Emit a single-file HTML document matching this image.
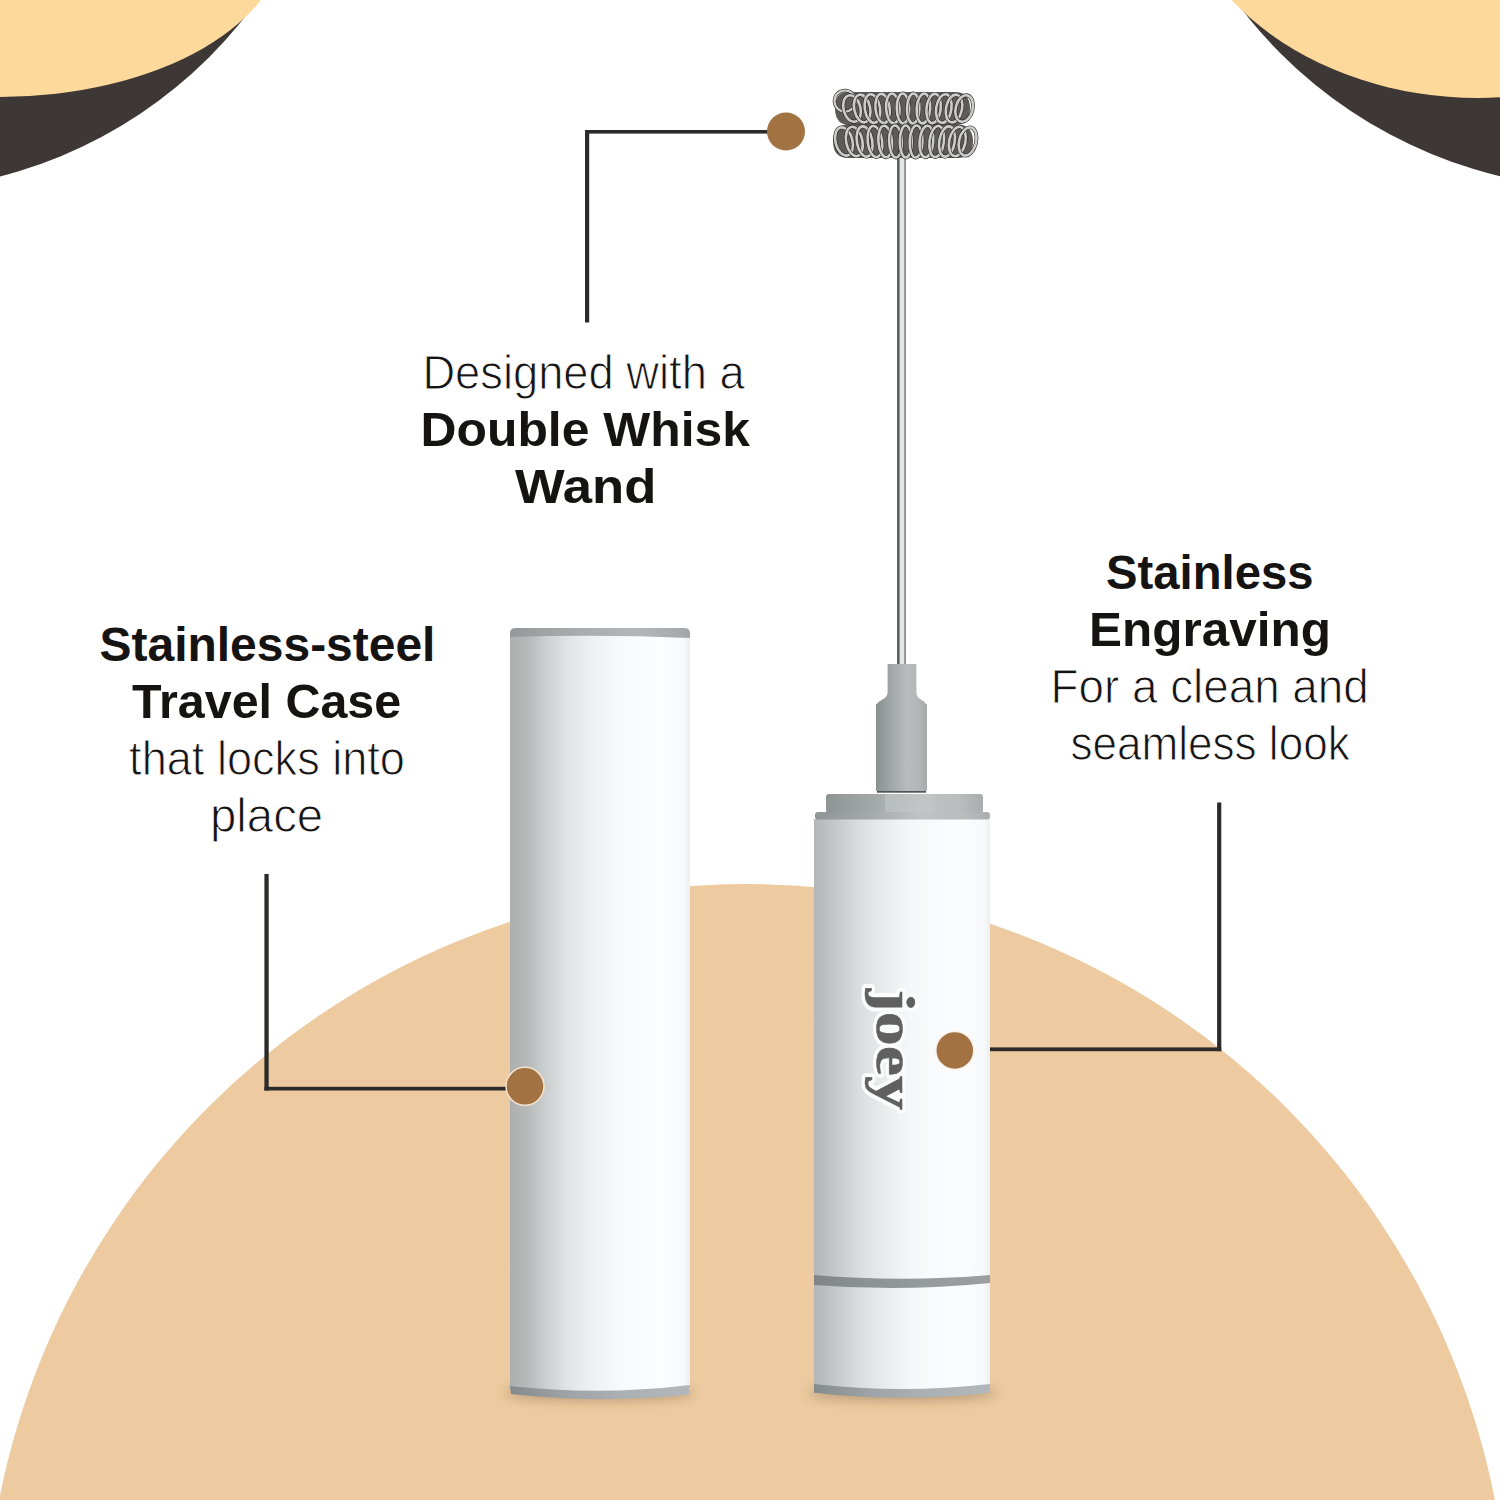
<!DOCTYPE html>
<html><head><meta charset="utf-8"><style>
html,body{margin:0;padding:0;background:#fff;}
svg{display:block;}
text.t{font-family:"Liberation Sans",sans-serif;font-size:48px;fill:#161313;}
</style></head><body>
<svg width="1500" height="1500" viewBox="0 0 1500 1500">
<defs>
 <linearGradient id="body" x1="0" x2="1" y1="0" y2="0">
  <stop offset="0" stop-color="#acafae"/>
  <stop offset="0.1" stop-color="#b7bab9"/>
  <stop offset="0.2" stop-color="#cbcfcf"/>
  <stop offset="0.32" stop-color="#e0e4e5"/>
  <stop offset="0.45" stop-color="#eef1f2"/>
  <stop offset="0.6" stop-color="#f7f9fa"/>
  <stop offset="0.85" stop-color="#fcfdfe"/>
  <stop offset="0.97" stop-color="#f6f8f9"/>
  <stop offset="1" stop-color="#eceeef"/>
 </linearGradient>
 <linearGradient id="grey" x1="0" x2="1" y1="0" y2="0">
  <stop offset="0" stop-color="#8a8f8f"/>
  <stop offset="0.3" stop-color="#a1a6a6"/>
  <stop offset="0.6" stop-color="#b8bcbd"/>
  <stop offset="0.85" stop-color="#b2b6b7"/>
  <stop offset="1" stop-color="#a5a9aa"/>
 </linearGradient>
 <linearGradient id="band" x1="0" x2="1" y1="0" y2="0">
  <stop offset="0" stop-color="#7f8586"/>
  <stop offset="0.3" stop-color="#8c9293"/>
  <stop offset="0.6" stop-color="#959b9c"/>
  <stop offset="1" stop-color="#9aa0a1"/>
 </linearGradient>
 <linearGradient id="band2" x1="0" x2="1" y1="0" y2="0">
  <stop offset="0" stop-color="#858b8c"/>
  <stop offset="0.3" stop-color="#9ca2a5"/>
  <stop offset="0.6" stop-color="#a9afb2"/>
  <stop offset="1" stop-color="#b1b7ba"/>
 </linearGradient>
 <linearGradient id="plate" x1="0" x2="1" y1="0" y2="0">
  <stop offset="0" stop-color="#8f9494"/>
  <stop offset="0.3" stop-color="#a3a8a8"/>
  <stop offset="0.6" stop-color="#bfc3c4"/>
  <stop offset="0.85" stop-color="#b9bdbe"/>
  <stop offset="1" stop-color="#a9adae"/>
 </linearGradient>
 <linearGradient id="body2" x1="0" x2="1" y1="0" y2="0">
  <stop offset="0" stop-color="#b3b7b6"/>
  <stop offset="0.1" stop-color="#c0c4c4"/>
  <stop offset="0.25" stop-color="#d9dddd"/>
  <stop offset="0.4" stop-color="#e9eced"/>
  <stop offset="0.55" stop-color="#f5f8fa"/>
  <stop offset="0.85" stop-color="#fcfdfe"/>
  <stop offset="0.97" stop-color="#f6f8f9"/>
  <stop offset="1" stop-color="#eceeef"/>
 </linearGradient>
 <linearGradient id="rim" x1="0" x2="1" y1="0" y2="0">
  <stop offset="0" stop-color="#94989a"/>
  <stop offset="0.3" stop-color="#a5a9ab"/>
  <stop offset="0.7" stop-color="#b3b7b9"/>
  <stop offset="1" stop-color="#a3a7a9"/>
 </linearGradient>
 <filter id="blur6" x="-50%" y="-300%" width="200%" height="700%"><feGaussianBlur stdDeviation="6"/></filter>
 <filter id="blur2" x="-50%" y="-50%" width="200%" height="200%"><feGaussianBlur stdDeviation="2"/></filter>
</defs>
<!-- top-left cup -->
<circle cx="-114" cy="-266" r="457" fill="#3d3735"/>
<ellipse cx="0" cy="-69" rx="287" ry="166" fill="#fdd99b"/>
<!-- top-right cup -->
<circle cx="1608" cy="-274" r="463" fill="#3d3735"/>
<ellipse cx="1478" cy="-147" rx="308" ry="245" fill="#fdd99b"/>
<!-- big tan circle -->
<circle cx="747" cy="1646" r="762" fill="#edca9f"/>

<!-- callout lines -->
<g fill="#2d2b2a">
 <rect x="585" y="130" width="190" height="3.6"/>
 <rect x="585" y="130" width="4.2" height="192.5"/>
 <rect x="264.4" y="874" width="4.3" height="216.5"/>
 <rect x="264.4" y="1086.8" width="250" height="3.7"/>
 <rect x="1217.1" y="802.5" width="4.2" height="248.7"/>
 <rect x="960" y="1047.4" width="261.3" height="3.8"/>
</g>

<!-- CASE -->
<g id="case">
 <ellipse cx="599" cy="1393" rx="95" ry="7" fill="#4a3a2a" opacity="0.35" filter="url(#blur6)"/>
 <path d="M510,634 L690,634 L690,1390 Q600,1400 510,1390 Z" fill="url(#body)"/>
 <path d="M510,1386 Q600,1396 690,1385 L689,1394.5 Q600,1404 511,1394 Z" fill="url(#band2)"/>
 <path d="M510,637 L510,633 Q510,628 516,628 L684,628 Q690,628 690,633 L690,638 Q600,634 510,637 Z" fill="url(#rim)"/>
</g>

<!-- HANDLE -->
<g id="handle">
 <ellipse cx="902" cy="1393" rx="95" ry="7" fill="#4a3a2a" opacity="0.35" filter="url(#blur6)"/>
 <path d="M814,819 L990,819 L990,1390 Q902,1401 814,1390 Z" fill="url(#body2)"/>
 <path d="M814,1275 Q902,1282.5 990,1275 L990,1283 Q902,1292 814,1285 Z" fill="url(#band)"/>
 <path d="M814,1384 Q902,1394 990,1384 L990,1392.7 Q902,1403 814,1392.7 Z" fill="url(#band2)"/>
 <rect x="815" y="812" width="175" height="7.5" rx="3" fill="url(#plate)"/>
 <rect x="826" y="794" width="157" height="19" rx="3" fill="url(#plate)"/>
 <rect x="877" y="790.5" width="49" height="2.2" fill="#505353"/>
 <rect x="885" y="794" width="50" height="18" fill="#c2c6c7" opacity="0.6"/>
 <path d="M876,704 L927,704 L927,791 L876,791 Z" fill="url(#grey)"/>
 <path d="M887.6,664 L916.4,664 L916.4,692 C916.4,701 927,699 927,708 L876,708 C876,699 887.6,701 887.6,692 Z" fill="url(#grey)"/>
 <!-- wand -->
 <rect x="897" y="150" width="9" height="514" fill="#e4e6e6"/>
 <rect x="897" y="150" width="2.6" height="514" fill="#5d6060"/>
 <rect x="904.2" y="150" width="1.8" height="514" fill="#8c8f8f"/>
</g>

<path d="M848,92 L955,92 Q970,92 970,108 Q970,124 955,125 L848,125 Q835,124 835,108 Q835,92 848,92 Z" fill="#4b4948" opacity="0.9"/>
<path d="M849,124 L957,124 Q973,125 973,141.5 Q973,158 957,158 L849,158 Q833,158 833,141.5 Q833,125 849,124 Z" fill="#4b4948" opacity="0.9"/>
<circle cx="845" cy="101" r="10.5" fill="none" stroke="#3a3938" stroke-width="3.6"/>
<circle cx="845" cy="101" r="10.5" fill="none" stroke="#d0d0d0" stroke-width="2.2"/>
<ellipse transform="rotate(-14.0 852.0 108.5)" cx="852.0" cy="108.5" rx="8.5" ry="13.5" fill="none" stroke="#2e2d2c" stroke-width="3.8"/>
<ellipse transform="rotate(-14.0 852.0 108.5)" cx="852.0" cy="108.5" rx="8.5" ry="13.5" fill="none" stroke="#cdcdcd" stroke-width="2.6"/>
<ellipse transform="rotate(-11.5 862.2 108.5)" cx="862.2" cy="108.5" rx="8.0" ry="14.0" fill="none" stroke="#2e2d2c" stroke-width="3.8"/>
<ellipse transform="rotate(-11.5 862.2 108.5)" cx="862.2" cy="108.5" rx="8.0" ry="14.0" fill="none" stroke="#cdcdcd" stroke-width="2.6"/>
<ellipse transform="rotate(-8.9 872.4 108.5)" cx="872.4" cy="108.5" rx="7.6" ry="14.4" fill="none" stroke="#2e2d2c" stroke-width="3.8"/>
<ellipse transform="rotate(-8.9 872.4 108.5)" cx="872.4" cy="108.5" rx="7.6" ry="14.4" fill="none" stroke="#cdcdcd" stroke-width="2.6"/>
<ellipse transform="rotate(-6.4 882.6 108.5)" cx="882.6" cy="108.5" rx="7.1" ry="14.7" fill="none" stroke="#2e2d2c" stroke-width="3.8"/>
<ellipse transform="rotate(-6.4 882.6 108.5)" cx="882.6" cy="108.5" rx="7.1" ry="14.7" fill="none" stroke="#cdcdcd" stroke-width="2.6"/>
<ellipse transform="rotate(-3.8 892.8 108.5)" cx="892.8" cy="108.5" rx="6.7" ry="14.9" fill="none" stroke="#2e2d2c" stroke-width="3.8"/>
<ellipse transform="rotate(-3.8 892.8 108.5)" cx="892.8" cy="108.5" rx="6.7" ry="14.9" fill="none" stroke="#cdcdcd" stroke-width="2.6"/>
<ellipse transform="rotate(-1.3 903.0 108.5)" cx="903.0" cy="108.5" rx="6.2" ry="15.0" fill="none" stroke="#2e2d2c" stroke-width="3.8"/>
<ellipse transform="rotate(-1.3 903.0 108.5)" cx="903.0" cy="108.5" rx="6.2" ry="15.0" fill="none" stroke="#cdcdcd" stroke-width="2.6"/>
<ellipse transform="rotate(1.3 913.2 108.5)" cx="913.2" cy="108.5" rx="6.2" ry="15.0" fill="none" stroke="#2e2d2c" stroke-width="3.8"/>
<ellipse transform="rotate(1.3 913.2 108.5)" cx="913.2" cy="108.5" rx="6.2" ry="15.0" fill="none" stroke="#cdcdcd" stroke-width="2.6"/>
<ellipse transform="rotate(3.8 923.4 108.5)" cx="923.4" cy="108.5" rx="6.7" ry="14.9" fill="none" stroke="#2e2d2c" stroke-width="3.8"/>
<ellipse transform="rotate(3.8 923.4 108.5)" cx="923.4" cy="108.5" rx="6.7" ry="14.9" fill="none" stroke="#cdcdcd" stroke-width="2.6"/>
<ellipse transform="rotate(6.4 933.6 108.5)" cx="933.6" cy="108.5" rx="7.1" ry="14.7" fill="none" stroke="#2e2d2c" stroke-width="3.8"/>
<ellipse transform="rotate(6.4 933.6 108.5)" cx="933.6" cy="108.5" rx="7.1" ry="14.7" fill="none" stroke="#cdcdcd" stroke-width="2.6"/>
<ellipse transform="rotate(8.9 943.8 108.5)" cx="943.8" cy="108.5" rx="7.6" ry="14.4" fill="none" stroke="#2e2d2c" stroke-width="3.8"/>
<ellipse transform="rotate(8.9 943.8 108.5)" cx="943.8" cy="108.5" rx="7.6" ry="14.4" fill="none" stroke="#cdcdcd" stroke-width="2.6"/>
<ellipse transform="rotate(11.5 954.0 108.5)" cx="954.0" cy="108.5" rx="8.0" ry="14.0" fill="none" stroke="#2e2d2c" stroke-width="3.8"/>
<ellipse transform="rotate(11.5 954.0 108.5)" cx="954.0" cy="108.5" rx="8.0" ry="14.0" fill="none" stroke="#cdcdcd" stroke-width="2.6"/>
<ellipse transform="rotate(14.0 964.2 108.5)" cx="964.2" cy="108.5" rx="8.5" ry="13.5" fill="none" stroke="#2e2d2c" stroke-width="3.8"/>
<ellipse transform="rotate(14.0 964.2 108.5)" cx="964.2" cy="108.5" rx="8.5" ry="13.5" fill="none" stroke="#cdcdcd" stroke-width="2.6"/>
<ellipse transform="rotate(-14.0 844.0 141.5)" cx="844.0" cy="141.5" rx="8.5" ry="14.4" fill="none" stroke="#2e2d2c" stroke-width="3.8"/>
<ellipse transform="rotate(-14.0 844.0 141.5)" cx="844.0" cy="141.5" rx="8.5" ry="14.4" fill="none" stroke="#cdcdcd" stroke-width="2.6"/>
<ellipse transform="rotate(-11.7 854.3 141.5)" cx="854.3" cy="141.5" rx="8.1" ry="14.9" fill="none" stroke="#2e2d2c" stroke-width="3.8"/>
<ellipse transform="rotate(-11.7 854.3 141.5)" cx="854.3" cy="141.5" rx="8.1" ry="14.9" fill="none" stroke="#cdcdcd" stroke-width="2.6"/>
<ellipse transform="rotate(-9.3 864.6 141.5)" cx="864.6" cy="141.5" rx="7.7" ry="15.3" fill="none" stroke="#2e2d2c" stroke-width="3.8"/>
<ellipse transform="rotate(-9.3 864.6 141.5)" cx="864.6" cy="141.5" rx="7.7" ry="15.3" fill="none" stroke="#cdcdcd" stroke-width="2.6"/>
<ellipse transform="rotate(-7.0 874.9 141.5)" cx="874.9" cy="141.5" rx="7.2" ry="15.6" fill="none" stroke="#2e2d2c" stroke-width="3.8"/>
<ellipse transform="rotate(-7.0 874.9 141.5)" cx="874.9" cy="141.5" rx="7.2" ry="15.6" fill="none" stroke="#cdcdcd" stroke-width="2.6"/>
<ellipse transform="rotate(-4.7 885.2 141.5)" cx="885.2" cy="141.5" rx="6.8" ry="15.8" fill="none" stroke="#2e2d2c" stroke-width="3.8"/>
<ellipse transform="rotate(-4.7 885.2 141.5)" cx="885.2" cy="141.5" rx="6.8" ry="15.8" fill="none" stroke="#cdcdcd" stroke-width="2.6"/>
<ellipse transform="rotate(-2.3 895.5 141.5)" cx="895.5" cy="141.5" rx="6.4" ry="16.0" fill="none" stroke="#2e2d2c" stroke-width="3.8"/>
<ellipse transform="rotate(-2.3 895.5 141.5)" cx="895.5" cy="141.5" rx="6.4" ry="16.0" fill="none" stroke="#cdcdcd" stroke-width="2.6"/>
<ellipse transform="rotate(0.0 905.8 141.5)" cx="905.8" cy="141.5" rx="6.0" ry="16.0" fill="none" stroke="#2e2d2c" stroke-width="3.8"/>
<ellipse transform="rotate(0.0 905.8 141.5)" cx="905.8" cy="141.5" rx="6.0" ry="16.0" fill="none" stroke="#cdcdcd" stroke-width="2.6"/>
<ellipse transform="rotate(2.3 916.1 141.5)" cx="916.1" cy="141.5" rx="6.4" ry="16.0" fill="none" stroke="#2e2d2c" stroke-width="3.8"/>
<ellipse transform="rotate(2.3 916.1 141.5)" cx="916.1" cy="141.5" rx="6.4" ry="16.0" fill="none" stroke="#cdcdcd" stroke-width="2.6"/>
<ellipse transform="rotate(4.7 926.4 141.5)" cx="926.4" cy="141.5" rx="6.8" ry="15.8" fill="none" stroke="#2e2d2c" stroke-width="3.8"/>
<ellipse transform="rotate(4.7 926.4 141.5)" cx="926.4" cy="141.5" rx="6.8" ry="15.8" fill="none" stroke="#cdcdcd" stroke-width="2.6"/>
<ellipse transform="rotate(7.0 936.7 141.5)" cx="936.7" cy="141.5" rx="7.2" ry="15.6" fill="none" stroke="#2e2d2c" stroke-width="3.8"/>
<ellipse transform="rotate(7.0 936.7 141.5)" cx="936.7" cy="141.5" rx="7.2" ry="15.6" fill="none" stroke="#cdcdcd" stroke-width="2.6"/>
<ellipse transform="rotate(9.3 947.0 141.5)" cx="947.0" cy="141.5" rx="7.7" ry="15.3" fill="none" stroke="#2e2d2c" stroke-width="3.8"/>
<ellipse transform="rotate(9.3 947.0 141.5)" cx="947.0" cy="141.5" rx="7.7" ry="15.3" fill="none" stroke="#cdcdcd" stroke-width="2.6"/>
<ellipse transform="rotate(11.7 957.3 141.5)" cx="957.3" cy="141.5" rx="8.1" ry="14.9" fill="none" stroke="#2e2d2c" stroke-width="3.8"/>
<ellipse transform="rotate(11.7 957.3 141.5)" cx="957.3" cy="141.5" rx="8.1" ry="14.9" fill="none" stroke="#cdcdcd" stroke-width="2.6"/>
<ellipse transform="rotate(14.0 967.6 141.5)" cx="967.6" cy="141.5" rx="8.5" ry="14.4" fill="none" stroke="#2e2d2c" stroke-width="3.8"/>
<ellipse transform="rotate(14.0 967.6 141.5)" cx="967.6" cy="141.5" rx="8.5" ry="14.4" fill="none" stroke="#cdcdcd" stroke-width="2.6"/>
<text transform="translate(876.5,989) rotate(90)" font-size="54" textLength="121" lengthAdjust="spacingAndGlyphs" style="font-family:'Liberation Serif',serif;font-weight:700;fill:#fff;stroke:#fbfcfc;stroke-width:7;stroke-linejoin:round">joey</text><text transform="translate(876.5,989) rotate(90)" font-size="54" textLength="121" lengthAdjust="spacingAndGlyphs" style="font-family:'Liberation Serif',serif;font-weight:700;fill:#606060;stroke:#606060;stroke-width:0.5;stroke-linejoin:round">joey</text>
<!-- dots -->
<g fill="#a27243">
 <circle cx="786" cy="131.5" r="19"/>
 <circle cx="525" cy="1086.3" r="19" stroke="#f4e4cf" stroke-width="1.5"/>
 <circle cx="954.8" cy="1050.4" r="19" stroke="#fbf3ea" stroke-width="1.5"/>
</g>

<!-- text -->
<text class="t" transform="translate(422.38,389.00) scale(0.9440,1)" font-weight="400" stroke="#fff" stroke-width="1.0">Designed with a</text>
<text class="t" transform="translate(420.51,446.30) scale(1.0385,1)" font-weight="700">Double Whisk</text>
<text class="t" transform="translate(515.00,503.30) scale(1.0973,1)" font-weight="700">Wand</text>
<text class="t" transform="translate(99.56,660.60) scale(0.9994,1)" font-weight="700">Stainless-steel</text>
<text class="t" transform="translate(132.12,717.60) scale(1.0084,1)" font-weight="700">Travel Case</text>
<text class="t" transform="translate(129.10,775.00) scale(0.9401,1)" font-weight="400" stroke="#fff" stroke-width="1.0">that locks into</text>
<text class="t" transform="translate(209.98,831.50) scale(0.9868,1)" font-weight="400" stroke="#fff" stroke-width="1.0">place</text>
<text class="t" transform="translate(1106.08,589.00) scale(0.9838,1)" font-weight="700">Stainless</text>
<text class="t" transform="translate(1089.04,645.50) scale(1.0307,1)" font-weight="700">Engraving</text>
<text class="t" transform="translate(1050.54,702.90) scale(0.9544,1)" font-weight="400" stroke="#fff" stroke-width="1.0">For a clean and</text>
<text class="t" transform="translate(1070.38,760.30) scale(0.9187,1)" font-weight="400" stroke="#fff" stroke-width="1.0">seamless look</text>
</svg>
</body></html>
